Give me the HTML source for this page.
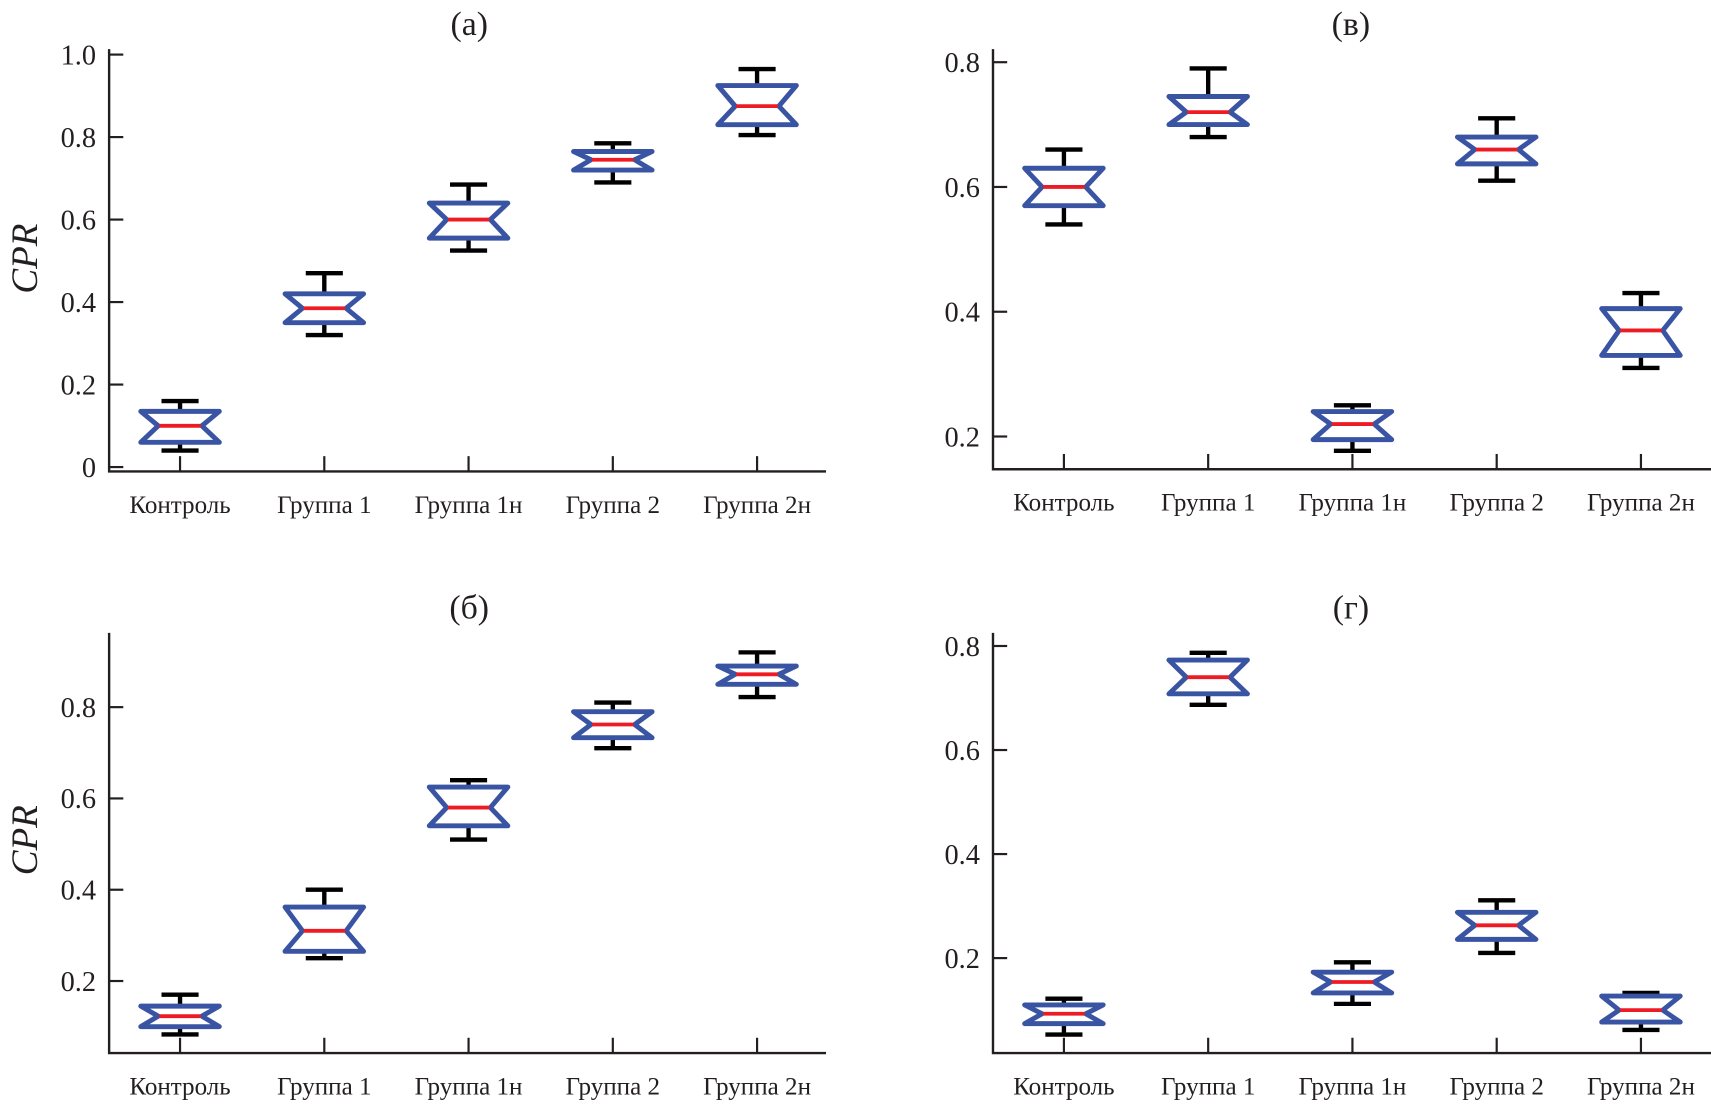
<!DOCTYPE html>
<html><head><meta charset="utf-8"><style>html,body{margin:0;padding:0;background:#fff}svg{display:block}text{font-family:"Liberation Serif",serif;fill:#231f20}</style></head>
<body>
<svg id="chart" width="1711" height="1105" viewBox="0 0 1568 1012.6" xmlns="http://www.w3.org/2000/svg"></svg>
<script>
const categories = ["Контроль","Группа 1","Группа 1н","Группа 2","Группа 2н"];
// panel а
const aWhiskLo=[0.04,0.32,0.525,0.69,0.805];
const aQ1=[0.06,0.35,0.555,0.72,0.83];
const aMed=[0.10,0.385,0.60,0.745,0.875];
const aQ3=[0.135,0.42,0.64,0.765,0.925];
const aWhiskHi=[0.16,0.47,0.685,0.785,0.965];
const aTicks=[0,0.2,0.4,0.6,0.8,1.0];
const aTickLabels=["0","0.2","0.4","0.6","0.8","1.0"];
// panel в
const vWhiskLo=[0.54,0.68,0.177,0.61,0.31];
const vQ1=[0.57,0.70,0.195,0.637,0.33];
const vMed=[0.60,0.72,0.22,0.66,0.37];
const vQ3=[0.63,0.745,0.24,0.68,0.405];
const vWhiskHi=[0.66,0.79,0.25,0.71,0.43];
const vTicks=[0.2,0.4,0.6,0.8];
const vTickLabels=["0.2","0.4","0.6","0.8"];
// panel б
const bWhiskLo=[0.083,0.25,0.51,0.71,0.822];
const bQ1=[0.10,0.265,0.54,0.733,0.85];
const bMed=[0.123,0.31,0.58,0.762,0.872];
const bQ3=[0.145,0.362,0.625,0.79,0.89];
const bWhiskHi=[0.17,0.40,0.64,0.81,0.92];
const bTicks=[0.2,0.4,0.6,0.8];
const bTickLabels=["0.2","0.4","0.6","0.8"];
// panel г
const gWhiskLo=[0.053,0.687,0.112,0.21,0.062];
const gQ1=[0.074,0.708,0.133,0.236,0.077];
const gMed=[0.093,0.74,0.154,0.263,0.10];
const gQ3=[0.11,0.773,0.173,0.288,0.127];
const gWhiskHi=[0.122,0.787,0.192,0.311,0.133];
const gTicks=[0.2,0.4,0.6,0.8];
const gTickLabels=["0.2","0.4","0.6","0.8"];

const NS="http://www.w3.org/2000/svg";
const svg=document.getElementById("chart");
function mk(tag,attrs,parent){const e=document.createElementNS(NS,tag);for(const k in attrs)e.setAttribute(k,attrs[k]);(parent||svg).appendChild(e);return e;}

function panel(cfg){
  const g=mk("g",{});
  
  
  const y=v=>cfg.y0pix-(v-cfg.y0val)*cfg.scale;
  const x=i=>cfg.xFirst+i*132.2;
  const ax=mk("path",{d:`M${cfg.left} ${cfg.top} V${cfg.bottom} H${cfg.right}`,stroke:"#231f20","stroke-width":2.2,fill:"none"},g);
  
  
  cfg.ticks.forEach((t,i)=>{
    mk("line",{x1:cfg.left,x2:cfg.left+13,y1:y(t),y2:y(t),stroke:"#231f20","stroke-width":2},g);
    const tl=mk("text",{x:cfg.left-12,y:y(t)+9,"font-size":26,"text-anchor":"end"},g);
    tl.textContent=cfg.tickLabels[i];
    
    
  });
  categories.forEach((c,i)=>{
    mk("line",{x1:x(i),x2:x(i),y1:cfg.bottom,y2:cfg.bottom-14,stroke:"#231f20","stroke-width":2},g);
    const tl=mk("text",{x:x(i),y:cfg.bottom+38,"font-size":23,"text-anchor":"middle"},g);
    tl.textContent=c;
    
    
    const bx=mk("g",{},g);
    
    
    const cx=x(i), lo=y(cfg.wl[i]), q1=y(cfg.q1[i]), md=y(cfg.med[i]), q3=y(cfg.q3[i]), hi=y(cfg.wh[i]);
    mk("path",{d:`M${cx} ${q3}V${hi}M${cx-17} ${hi}H${cx+17}M${cx} ${q1}V${lo}M${cx-17} ${lo}H${cx+17}`,stroke:"#000","stroke-width":4,fill:"none"},bx);
    mk("path",{d:`M${cx-36} ${q3}H${cx+36}L${cx+20} ${md}L${cx+36} ${q1}H${cx-36}L${cx-20} ${md}Z`,stroke:"#3a54a4","stroke-width":4.5,fill:"#fff","stroke-linejoin":"round"},bx);
    mk("line",{x1:cx-19,x2:cx+19,y1:md,y2:md,stroke:"#ed1c24","stroke-width":3.5},bx);
  });
  const t=mk("text",{x:cfg.titleX,y:cfg.titleY,"font-size":31,"text-anchor":"middle"},g);
  t.textContent=cfg.title;
  
  
  if(cfg.ylabel){
    const yl=mk("text",{x:0,y:0,"font-size":34,"font-style":"italic","text-anchor":"middle",transform:`translate(34 ${cfg.ylabelY}) rotate(-90)`},g);
    yl.textContent="CPR";
    
    
  }
}
panel({name:"panel-a",title:"(а)",titleX:430,titleY:32,left:100,right:757,top:45,bottom:432,y0val:0,y0pix:428,scale:378,xFirst:165,
  ticks:aTicks,tickLabels:aTickLabels,wl:aWhiskLo,q1:aQ1,med:aMed,q3:aQ3,wh:aWhiskHi,ylabel:true,ylabelY:237});
panel({name:"panel-v",title:"(в)",titleX:1238,titleY:32,left:910,right:1568,top:45,bottom:430,y0val:0.2,y0pix:400,scale:571.7,xFirst:975,
  ticks:vTicks,tickLabels:vTickLabels,wl:vWhiskLo,q1:vQ1,med:vMed,q3:vQ3,wh:vWhiskHi,ylabel:false});
panel({name:"panel-b",title:"(б)",titleX:430,titleY:567,left:100,right:757,top:580,bottom:965,y0val:0.2,y0pix:899,scale:418.3,xFirst:165,
  ticks:bTicks,tickLabels:bTickLabels,wl:bWhiskLo,q1:bQ1,med:bMed,q3:bQ3,wh:bWhiskHi,ylabel:true,ylabelY:770});
panel({name:"panel-g",title:"(г)",titleX:1238,titleY:567,left:910,right:1568,top:580,bottom:965,y0val:0.2,y0pix:878,scale:476.7,xFirst:975,
  ticks:gTicks,tickLabels:gTickLabels,wl:gWhiskLo,q1:gQ1,med:gMed,q3:gQ3,wh:gWhiskHi,ylabel:false});
</script>
</body></html>
